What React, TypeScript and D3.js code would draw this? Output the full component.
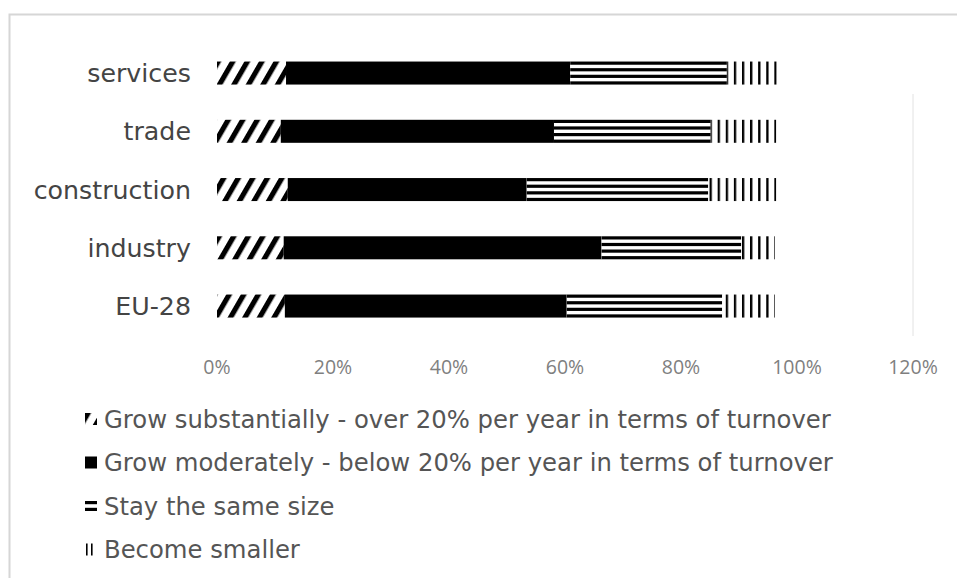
import React from "react";
import * as d3 from "d3";

const categories = ["services", "trade", "construction", "industry", "EU-28"];
const growSubstantially = [11.9, 11.0, 12.2, 11.5, 11.7];
const growModerately = [49.0, 47.1, 41.2, 54.8, 48.6];
const staySame = [27.0, 27.0, 31.3, 24.1, 26.8];
const becomeSmaller = [8.6, 11.3, 11.7, 5.8, 9.1];
const tickValues = [0, 20, 40, 60, 80, 100, 120];
const tickLabels = ["0%", "20%", "40%", "60%", "80%", "100%", "120%"];
const legendLabels = [
  "Grow substantially - over 20% per year in terms of turnover",
  "Grow moderately - below 20% per year in terms of turnover",
  "Stay the same size",
  "Become smaller",
];

const W = 957;
const H = 578;

export default function App() {
  const x = d3.scaleLinear().domain([0, 120]).range([217, 913]);
  const y = d3
    .scaleBand<string>()
    .domain(categories)
    .range([26.3, 352.8])
    .paddingInner(0.605)
    .paddingOuter(0.605);
  const bh = y.bandwidth();

  const series = [growSubstantially, growModerately, staySame, becomeSmaller];
  const stackData = categories.map((c, i) => {
    let acc = 0;
    return series.map((s) => {
      const x0 = acc;
      acc += s[i];
      return { c, x0, x1: acc };
    });
  });

  const stayLines = (x0: number, x1: number, top: number, h: number, n: number, lh: number, key: string) =>
    d3.range(n).map((k) => (
      <rect
        key={key + k}
        x={x0}
        y={top + (k * (h - lh)) / (n - 1)}
        width={x1 - x0}
        height={lh}
        fill="#000"
      />
    ));

  const legendY = (i: number) => 419 + i * 43.5;

  return (
    <svg
      width={W}
      height={H}
      style={{ position: "absolute", left: 0, top: 0, background: "#fff" }}
    >
      <defs>
        <pattern
          id="hatch"
          patternUnits="userSpaceOnUse"
          x={3}
          width={12.6}
          height={12.6}
          patternTransform="rotate(30)"
        >
          <rect width={12.6} height={12.6} fill="#fff" />
          <rect x={0} y={0} width={5.2} height={12.6} fill="#000" />
        </pattern>
        <pattern
          id="vert"
          patternUnits="userSpaceOnUse"
          x={733.85}
          y={0}
          width={8.1}
          height={10}
        >
          <rect width={8.1} height={10} fill="#fff" />
          <rect x={0} y={0} width={2.3} height={10} fill="#000" />
        </pattern>
        <pattern
          id="vertLegend"
          patternUnits="userSpaceOnUse"
          x={86}
          y={0}
          width={5}
          height={10}
        >
          <rect width={5} height={10} fill="#fff" />
          <rect x={0} y={0} width={1.6} height={10} fill="#000" />
        </pattern>
      </defs>

      <rect x={9.5} y={14.5} width={1200} height={1000} fill="none" stroke="#d6d6d6" strokeWidth={2} />

      <line x1={x(120)} x2={x(120)} y1={94} y2={336} stroke="#e2e2e2" strokeWidth={1} />

      {categories.map((c) => (
        <text
          key={c}
          x={191}
          y={(y(c) as number) + bh / 2}
          dy="0.36em"
          textAnchor="end"
          fontFamily="DejaVu Sans, Verdana, sans-serif"
          fontSize={25.3}
          fill="#444"
        >
          {c}
        </text>
      ))}

      {stackData.map((segs, i) => {
        const c = categories[i];
        const top = y(c) as number;
        return (
          <g key={c}>
            <rect x={x(segs[0].x0)} y={top} width={x(segs[0].x1) - x(segs[0].x0)} height={bh} fill="url(#hatch)" />
            <rect x={x(segs[1].x0)} y={top} width={x(segs[1].x1) - x(segs[1].x0)} height={bh} fill="#000" />
            <rect x={x(segs[2].x0)} y={top} width={x(segs[2].x1) - x(segs[2].x0)} height={bh} fill="#fff" />
            {stayLines(x(segs[2].x0), x(segs[2].x1), top, bh, 4, 3.2, c + "s")}
            <rect x={x(segs[3].x0)} y={top} width={x(segs[3].x1) - x(segs[3].x0)} height={bh} fill="url(#vert)" />
          </g>
        );
      })}

      {tickValues.map((t, i) => (
        <text
          key={t}
          x={x(t)}
          y={374}
          textAnchor="middle"
          fontFamily="Open Sans, sans-serif"
          fontSize={19.5}
          fill="#7f7f7f"
        >
          {tickLabels[i]}
        </text>
      ))}

      {legendLabels.map((l, i) => {
        const cy = legendY(i);
        let marker: React.ReactNode = null;
        if (i === 0)
          marker = <rect x={85} y={cy - 6} width={12} height={12} fill="url(#hatch)" />;
        else if (i === 1)
          marker = <rect x={85} y={cy - 6} width={12} height={12} fill="#000" />;
        else if (i === 2)
          marker = <g>{stayLines(85, 97, cy - 5, 10, 2, 3.2, "lg")}</g>;
        else
          marker = <rect x={86} y={cy - 6} width={10} height={12} fill="url(#vertLegend)" />;
        return (
          <g key={l}>
            {marker}
            <text
              x={104}
              y={cy}
              dy="0.36em"
              fontFamily="DejaVu Sans, Verdana, sans-serif"
              fontSize={24.3}
              fill="#555"
            >
              {l}
            </text>
          </g>
        );
      })}
    </svg>
  );
}
